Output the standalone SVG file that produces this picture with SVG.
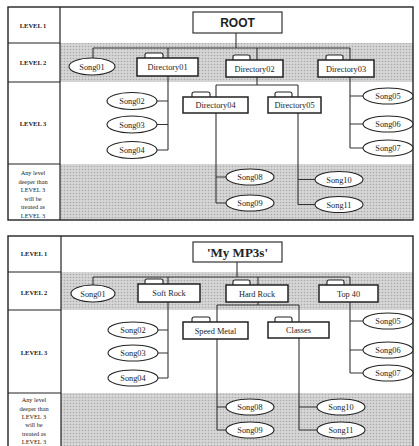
<svg xmlns="http://www.w3.org/2000/svg" width="419" height="446" viewBox="0 0 419 446">
<defs>
<pattern id="ht" width="3" height="3" patternUnits="userSpaceOnUse">
<rect width="3" height="3" fill="#d6d6d6"/>
<circle cx="1.5" cy="1.5" r="0.8" fill="#a9a9a9"/>
</pattern>
<style>
.band{fill:url(#ht)}
.frame{fill:none;stroke:#222;stroke-width:1.4}
.line{stroke:#222;stroke-width:1.2}
.conn path{fill:none;stroke:#333;stroke-width:1.1}
.song ellipse{fill:#fff;stroke:#222;stroke-width:1.1}
.dir rect{fill:#fff;stroke:#222;stroke-width:1.5}
.dir path{fill:#fff;stroke:#222;stroke-width:1.1}
.root rect{fill:#fff;stroke:#333;stroke-width:1.2}
text{font-family:"Liberation Serif","DejaVu Serif",serif;fill:#222;text-anchor:middle}
.lab{font-size:8.3px}
.lvl{font-size:6.5px;font-weight:bold}
.deep{font-size:6.3px}
.rt{font-family:"Liberation Sans",Arial,sans-serif;font-weight:bold;font-size:12px}
.mp{font-weight:bold;font-size:13px}
</style>
</defs>
<rect width="419" height="446" fill="#fff"/>

<!-- Panel 1 -->
<g id="panel1">
<rect class="band" x="60" y="43" width="353" height="39"/>
<rect class="band" x="60" y="164" width="353" height="56"/>
<rect class="frame" x="8" y="7" width="405" height="213"/>
<line class="line" x1="60" y1="7" x2="60" y2="220"/>
<line class="line" x1="8" y1="43" x2="60" y2="43"/>
<line class="line" x1="8" y1="82" x2="60" y2="82"/>
<line class="line" x1="8" y1="164" x2="60" y2="164"/>
<text class="lvl" x="33" y="28">LEVEL 1</text>
<text class="lvl" x="33" y="65">LEVEL 2</text>
<text class="lvl" x="33" y="126">LEVEL 3</text>
<text class="deep" x="33" y="175">Any level</text>
<text class="deep" x="33" y="183.5">deeper than</text>
<text class="deep" x="33" y="192">LEVEL 3</text>
<text class="deep" x="33" y="200.5">will be</text>
<text class="deep" x="33" y="209">treated as</text>
<text class="deep" x="33" y="217.5">LEVEL 3</text>
</g>

<g class="conn" id="connectors1">
<path d="M236 33V48M93 48H350M93 48V58M168 48V58M257 48V60M350 48V60"/>
<path d="M168 76V150M157 101H168M157 124.5H168M157 150H168"/>
<path d="M257 77V85M216 85H298M216 85V97M298 85V97"/>
<path d="M216 113V203M216 177H226M216 203H226"/>
<path d="M298 113V204.5M298 179.5H315M298 204.5H315"/>
<path d="M350 77V148M350 96H363M350 124H363M350 148H363"/>
</g>

<g id="root" class="root"><rect x="193" y="12" width="89" height="21"/><text class="rt" x="237.5" y="27">ROOT</text></g>
<g id="p1-song01" class="song"><ellipse cx="92" cy="66.5" rx="23" ry="8.5"/><text class="lab" x="92" y="69.5">Song01</text></g>
<g id="p1-dir01" class="dir"><path d="M145 58V55Q145 53 147 53H161Q163 53 163 55V58"/><rect x="137" y="58" width="61" height="18"/><text class="lab" x="167.5" y="70">Directory01</text></g>
<g id="p1-dir02" class="dir"><path d="M233 60V57Q233 55 235 55H248Q250 55 250 57V60"/><rect x="226" y="60" width="57" height="17"/><text class="lab" x="254.5" y="71.5">Directory02</text></g>
<g id="p1-dir03" class="dir"><path d="M326 60V57Q326 55 328 55H341Q343 55 343 57V60"/><rect x="318" y="60" width="56" height="17"/><text class="lab" x="346" y="71.5">Directory03</text></g>
<g id="p1-song02" class="song"><ellipse cx="132" cy="101" rx="25" ry="8.5"/><text class="lab" x="132" y="104">Song02</text></g>
<g id="p1-song03" class="song"><ellipse cx="132" cy="124.5" rx="25" ry="8.5"/><text class="lab" x="132" y="127.5">Song03</text></g>
<g id="p1-song04" class="song"><ellipse cx="132" cy="150" rx="25" ry="8.5"/><text class="lab" x="132" y="153">Song04</text></g>
<g id="p1-dir04" class="dir"><path d="M192 97V94Q192 92 194 92H208Q210 92 210 94V97"/><rect x="183" y="97" width="65" height="16"/><text class="lab" x="215.5" y="108">Directory04</text></g>
<g id="p1-dir05" class="dir"><path d="M275 97V94Q275 92 277 92H290Q292 92 292 94V97"/><rect x="268" y="97" width="53" height="16"/><text class="lab" x="294.5" y="108">Directory05</text></g>
<g id="p1-song05" class="song"><ellipse cx="388" cy="96" rx="25" ry="8"/><text class="lab" x="388" y="99">Song05</text></g>
<g id="p1-song06" class="song"><ellipse cx="388" cy="124" rx="25" ry="8"/><text class="lab" x="388" y="127">Song06</text></g>
<g id="p1-song07" class="song"><ellipse cx="388" cy="148" rx="25" ry="8"/><text class="lab" x="388" y="151">Song07</text></g>
<g id="p1-song08" class="song"><ellipse cx="250" cy="177" rx="24" ry="8"/><text class="lab" x="250" y="180">Song08</text></g>
<g id="p1-song09" class="song"><ellipse cx="250" cy="203" rx="24" ry="8"/><text class="lab" x="250" y="206">Song09</text></g>
<g id="p1-song10" class="song"><ellipse cx="339" cy="179.5" rx="24" ry="8"/><text class="lab" x="339" y="182.5">Song10</text></g>
<g id="p1-song11" class="song"><ellipse cx="339" cy="204.5" rx="24" ry="8"/><text class="lab" x="339" y="207.5">Song11</text></g>

<!-- Panel 2 -->
<g id="panel2">
<rect class="band" x="61" y="272" width="352" height="38"/>
<rect class="band" x="61" y="393" width="352" height="60"/>
<rect class="frame" x="8" y="236" width="405" height="215"/>
<line class="line" x1="61" y1="236" x2="61" y2="446"/>
<line class="line" x1="8" y1="272" x2="61" y2="272"/>
<line class="line" x1="8" y1="310" x2="61" y2="310"/>
<line class="line" x1="8" y1="393" x2="61" y2="393"/>
<text class="lvl" x="34" y="255.5">LEVEL 1</text>
<text class="lvl" x="34" y="295">LEVEL 2</text>
<text class="lvl" x="34" y="355">LEVEL 3</text>
<text class="deep" x="34" y="402">Any level</text>
<text class="deep" x="34" y="410.5">deeper than</text>
<text class="deep" x="34" y="419">LEVEL 3</text>
<text class="deep" x="34" y="427">will be</text>
<text class="deep" x="34" y="435.5">treated as</text>
<text class="deep" x="34" y="443.5">LEVEL 3</text>
</g>

<g class="conn" id="connectors2">
<path d="M237 262V277M93 277H350M93 277V285M168 277V284M258 277V285M350 277V285"/>
<path d="M168 302V378M158 330H168M158 353H168M158 378H168"/>
<path d="M258 302V305M217 305H299M217 305V322M299 305V322"/>
<path d="M217 339V430M217 407H226M217 430H226"/>
<path d="M299 338V430M299 407H317M299 430H317"/>
<path d="M350 302V373M350 321H363M350 350H363M350 373H363"/>
</g>

<g id="mymp3s" class="root"><rect x="193" y="242" width="89" height="20"/><text class="mp" x="237.5" y="257">'My MP3s'</text></g>
<g id="p2-song01" class="song"><ellipse cx="93" cy="293.5" rx="22" ry="8.5"/><text class="lab" x="93" y="296.5">Song01</text></g>
<g id="softrock" class="dir"><path d="M145 284V281Q145 279 147 279H161Q163 279 163 281V284"/><rect x="138" y="284" width="62" height="18"/><text class="lab" x="169" y="296">Soft Rock</text></g>
<g id="hardrock" class="dir"><path d="M233 285V282Q233 280 235 280H248Q250 280 250 282V285"/><rect x="226" y="285" width="62" height="17"/><text class="lab" x="257" y="296.5">Hard Rock</text></g>
<g id="top40" class="dir"><path d="M327 285V282Q327 280 329 280H342Q344 280 344 282V285"/><rect x="319" y="285" width="59" height="17"/><text class="lab" x="348.5" y="296.5">Top 40</text></g>
<g id="p2-song02" class="song"><ellipse cx="133" cy="330" rx="25" ry="8"/><text class="lab" x="133" y="333">Song02</text></g>
<g id="p2-song03" class="song"><ellipse cx="133" cy="353" rx="25" ry="8"/><text class="lab" x="133" y="356">Song03</text></g>
<g id="p2-song04" class="song"><ellipse cx="133" cy="378" rx="25" ry="8"/><text class="lab" x="133" y="381">Song04</text></g>
<g id="speedmetal" class="dir"><path d="M192 322V319Q192 317 194 317H208Q210 317 210 319V322"/><rect x="183" y="322" width="65" height="17"/><text class="lab" x="215.5" y="333.5">Speed Metal</text></g>
<g id="classes" class="dir"><path d="M275 322V319Q275 317 277 317H290Q292 317 292 319V322"/><rect x="268" y="322" width="61" height="16"/><text class="lab" x="298.5" y="333">Classes</text></g>
<g id="p2-song05" class="song"><ellipse cx="388" cy="321" rx="25" ry="8"/><text class="lab" x="388" y="324">Song05</text></g>
<g id="p2-song06" class="song"><ellipse cx="388" cy="350" rx="25" ry="8"/><text class="lab" x="388" y="353">Song06</text></g>
<g id="p2-song07" class="song"><ellipse cx="388" cy="373" rx="25" ry="8"/><text class="lab" x="388" y="376">Song07</text></g>
<g id="p2-song08" class="song"><ellipse cx="250" cy="407" rx="24" ry="8"/><text class="lab" x="250" y="410">Song08</text></g>
<g id="p2-song09" class="song"><ellipse cx="250" cy="430" rx="24" ry="8"/><text class="lab" x="250" y="433">Song09</text></g>
<g id="p2-song10" class="song"><ellipse cx="341" cy="407" rx="24" ry="8"/><text class="lab" x="341" y="410">Song10</text></g>
<g id="p2-song11" class="song"><ellipse cx="341" cy="430" rx="24" ry="8"/><text class="lab" x="341" y="433">Song11</text></g>
</svg>
